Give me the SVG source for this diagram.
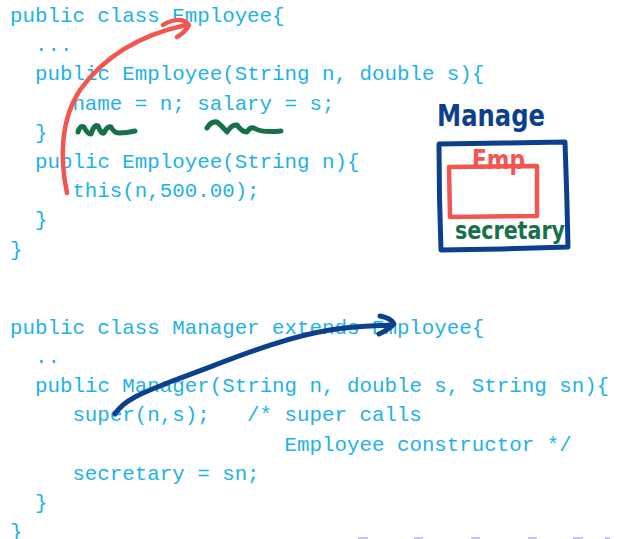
<svg xmlns="http://www.w3.org/2000/svg" width="617" height="539" viewBox="0 0 617 539">
<style>
.code{font-family:"Liberation Mono","DejaVu Sans Mono",monospace;font-size:20.8px;fill:#1eb1ea}
.ink{fill:none;stroke-linecap:round;stroke-linejoin:round}
.red{stroke:#f2564f;stroke-width:4.5}
.blue{stroke:#0c3f8e;stroke-width:5}
.green{stroke:#16704a;stroke-width:5}
.hand{font-family:"DejaVu Sans","Liberation Sans",sans-serif;font-weight:bold}
.nav{fill:#cbc4ec}
</style>
<rect width="617" height="539" fill="#ffffff"/>
<g id="employee-class">
<text class="code" x="10" y="22">public class Employee{</text>
<text class="code" x="35" y="51.2">...</text>
<text class="code" x="35" y="80.4">public Employee(String n, double s){</text>
<text class="code" x="72.4" y="109.6">name = n; salary = s;</text>
<text class="code" x="35" y="138.8">}</text>
<text class="code" x="35" y="168">public Employee(String n){</text>
<text class="code" x="72.4" y="197.2">this(n,500.00);</text>
<text class="code" x="35" y="226.4">}</text>
<text class="code" x="10" y="255.6">}</text>
</g>
<g id="manager-class">
<text class="code" x="10" y="333.5">public class Manager extends Employee{</text>
<text class="code" x="35" y="362.8">..</text>
<text class="code" x="35" y="392">public Manager(String n, double s, String sn){</text>
<text class="code" x="72.4" y="421.3">super(n,s);</text>
<text class="code" x="247.1" y="421.3">/* super calls</text>
<text class="code" x="284.6" y="450.5">Employee constructor */</text>
<text class="code" x="72.4" y="479.8">secretary = sn;</text>
<text class="code" x="35" y="509">}</text>
<text class="code" x="10" y="537.5">}</text>
</g>
<g id="manager-sketch">
<text class="hand" x="437" y="126" font-size="30" fill="#0c3f8e" textLength="108" lengthAdjust="spacingAndGlyphs">Manage</text>
<path class="ink blue" d="M439,144 L503,143 L565,142 Q567,195 568,247 L502,249 L441,250 Q439,197 439,144 Z"/>
<path class="ink red" stroke-width="4" d="M449,167 L537,166 L537,216 L450,217 Z"/>
<text class="hand" x="472" y="169" font-size="26" fill="#f2564f" textLength="53" lengthAdjust="spacingAndGlyphs">Emp</text>
<text class="hand" x="455" y="239" font-size="24" fill="#16704a" textLength="110" lengthAdjust="spacingAndGlyphs">secretary</text>
</g>
<g id="connectors">
<path class="ink red" d="M67,193 C60,160 60,120 80,90 C105,55 140,35 186,25"/>
<path class="ink red" d="M163,25 C172,19 184,18 189,25 C186,31 182,34 177,37"/>
<path class="ink green" d="M78,132 Q80,125 84,127 Q88,135 91,134 Q94,124 98,126 Q101,134 104,133 Q107,126 111,127 Q114,133 119,133 Q127,133 135,131"/>
<path class="ink green" d="M207,128 Q211,121 217,122 Q222,126 227,132 Q232,124 237,125 Q242,132 247,132 Q250,127 254,128 Q262,133 281,131"/>
<path class="ink blue" d="M115,414 C125,398 150,390 175,380 C230,360 280,338 330,330 C355,326 375,326 392,325"/>
<path class="ink blue" d="M380,316 Q391,318 394,324 Q388,330 379,334"/>
</g>
<g id="nav">
<rect class="nav" x="358" y="537" width="10" height="2"/>
<rect class="nav" x="414" y="537" width="9" height="2"/>
<rect class="nav" x="471" y="537" width="9" height="2"/>
<rect class="nav" x="528" y="537" width="9" height="2"/>
<rect class="nav" x="573" y="537" width="10" height="2"/>
<rect class="nav" x="605" y="537" width="5" height="2"/>
</g>
</svg>
